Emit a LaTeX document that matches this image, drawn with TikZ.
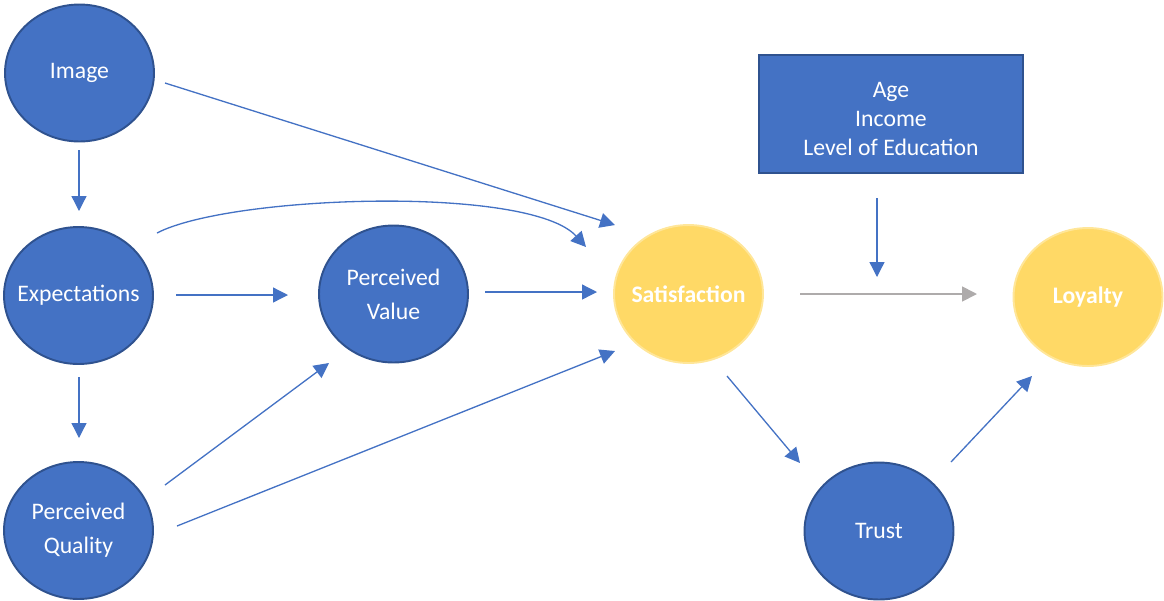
\documentclass[tikz,border=0pt]{standalone}
\usepackage{fontspec}
\setmainfont{Carlito}
\usetikzlibrary{shapes.geometric,arrows.meta}
\definecolor{cblue}{HTML}{4472C4}
\definecolor{cbluedark}{HTML}{2F528F}
\definecolor{cyellow}{HTML}{FFD966}
\definecolor{cyellowlight}{HTML}{FFE699}
\definecolor{cgray}{HTML}{AEABAB}
\tikzset{
  x=0.02cm, y=-0.02cm,
  bluenode/.style={ellipse, draw=cbluedark, fill=cblue, line width=1.1pt, inner xsep=-14pt, inner ysep=0pt,
    minimum width=2.98cm, minimum height=2.74cm, text=white, align=center,
    font=\fontsize{13.5}{19.5}\selectfont},
  yellownode/.style={ellipse, draw=cyellowlight, fill=cyellow, line width=1.1pt, inner xsep=-14pt, inner ysep=0pt,
    minimum width=2.98cm, minimum height=2.76cm, text=white, align=center,
    font=\fontsize{13.5}{19.5}\selectfont\bfseries},
  boxnode/.style={rectangle, draw=cbluedark, fill=cblue, line width=1.1pt, inner sep=0pt,
    minimum width=5.28cm, minimum height=2.36cm, text=white, align=center,
    font=\fontsize{13.5}{16.5}\selectfont},
  conn/.style={draw=cblue, line width=0.75pt, -{Triangle[length=0.3cm,width=0.3cm]}},
  grayconn/.style={draw=cgray, line width=1pt, -{Triangle[length=0.3cm,width=0.3cm]}},
}
\begin{document}
\begin{tikzpicture}
\useasboundingbox (0,0) rectangle (1164,600);
% nodes
\node[bluenode] (img) at (79.5,73) {Image};
\node[bluenode] (exp) at (78.5,295.5) {Expectations};
\node[bluenode] (pq) at (78.5,530.5) {Perceived\\Quality};
\node[bluenode] (pv) at (393.5,294) {Perceived\\Value};
\node[yellownode] (sat) at (688.5,294) {Satisfaction};
\node[yellownode] (loy) at (1088,297) {Loyalty};
\node[bluenode] (trust) at (879,531) {Trust};
\node[boxnode] (demo) at (891,114) {\rule{0pt}{14pt}Age\\Income\\Level of Education};
% connector end points
\coordinate (imgS) at (79,150);   \coordinate (expN) at (79,211);
\coordinate (expS) at (79,377);   \coordinate (pqN) at (79,438);
\coordinate (imgE) at (165,83);   \coordinate (satNW) at (615,225);
\coordinate (expNE) at (157,233); \coordinate (satNW2) at (586,247);
\coordinate (expE) at (176,295);  \coordinate (pvW) at (288,295);
\coordinate (pvE) at (485,292);   \coordinate (satW) at (597,292);
\coordinate (pqNE) at (165,485);  \coordinate (pvSW) at (329,363);
\coordinate (pqE) at (177,526);   \coordinate (satSW) at (615,351);
\coordinate (satE) at (800,294);  \coordinate (loyW) at (977,294);
\coordinate (demoS) at (877,198); \coordinate (modPt) at (877,277);
\coordinate (satSE) at (727,376); \coordinate (trustNW) at (800,463);
\coordinate (trustNE) at (951,462); \coordinate (loySW) at (1032,376);
% connectors
\draw[conn] (imgS) -- (expN);
\draw[conn] (expS) -- (pqN);
\draw[conn] (imgE) -- (satNW);
\draw[conn] (expNE) .. controls (230,195) and (530,185) .. (satNW2);
\draw[conn] (expE) -- (pvW);
\draw[conn] (pvE) -- (satW);
\draw[conn] (pqNE) -- (pvSW);
\draw[conn] (pqE) -- (satSW);
\draw[grayconn] (satE) -- (loyW);
\draw[conn] (demoS) -- (modPt);
\draw[conn] (satSE) -- (trustNW);
\draw[conn] (trustNE) -- (loySW);
\end{tikzpicture}
\end{document}
